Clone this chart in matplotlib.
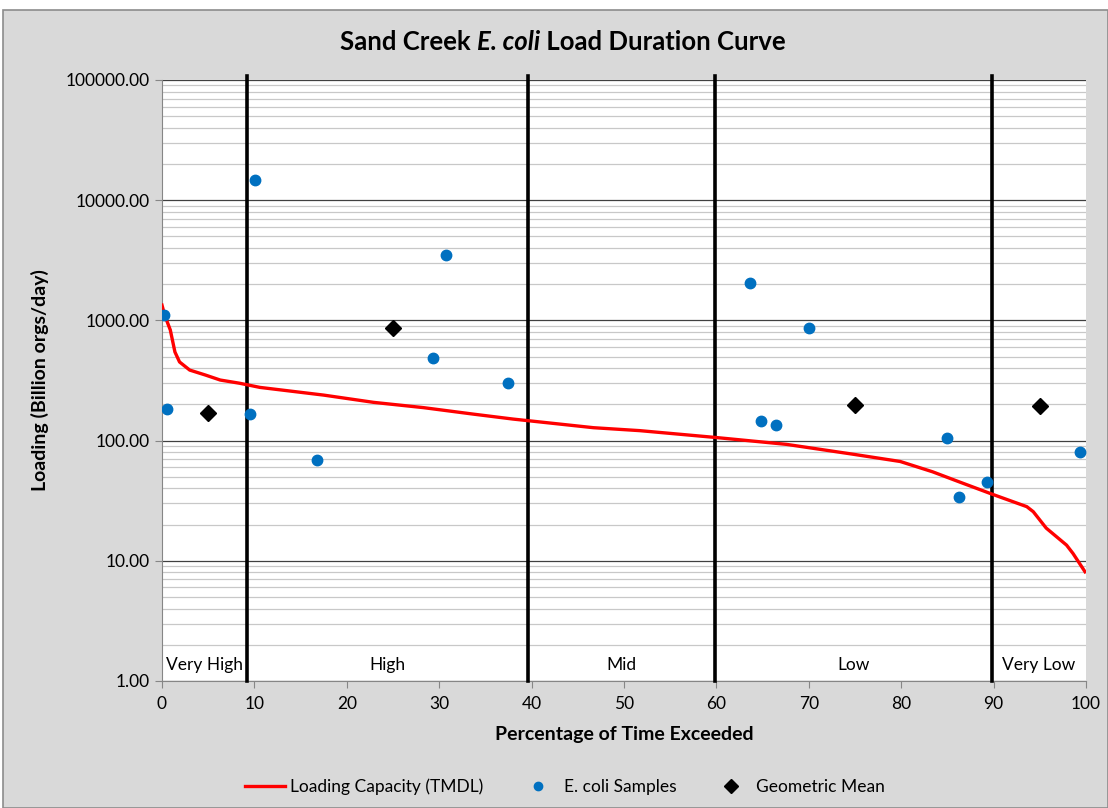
import matplotlib
matplotlib.use('Agg')
import matplotlib.pyplot as plt
from matplotlib.patches import Rectangle
from matplotlib.ticker import LogLocator, NullFormatter, FixedLocator, FuncFormatter
import numpy as np

plt.rcParams['font.family'] = ['Lato', 'DejaVu Sans']

# loading capacity curve (percent exceeded, billion orgs/day)
tmdl_pct = [0, 0.3, 0.9, 1.4, 1.9, 3.0, 4.7, 6.3, 8.4, 10.6, 17.5, 22.9, 28.3, 33.7,
            38.0, 46.7, 51.7, 60.0, 67.6, 74.8, 79.9, 83.4, 86.4, 89.9, 93.6, 94.3,
            95.7, 97.9, 98.6, 99.9]
tmdl_load = [1340, 1100, 832, 546, 451, 386, 351, 319, 300, 277, 239, 208, 188, 166,
             151, 128, 121, 106, 93, 77, 67, 55, 45, 35.7, 28.2, 25.6,
             18.7, 13.5, 11.5, 8.1]

# e. coli samples
sample_pct = [0.2, 0.5, 9.5, 10.1, 16.8, 29.3, 30.7, 37.4, 63.6, 64.8, 66.5, 70.0,
              85.0, 86.3, 89.3, 99.4]
sample_load = [1110, 183, 166, 14700, 69, 487, 3500, 301, 2050, 146, 135, 864,
               105, 34, 45, 80]

# geometric mean per flow zone
geo_pct = [5, 25, 75, 95]
geo_load = [170, 865, 198, 194]

zone_bounds = [9.2, 39.6, 59.9, 89.8]
zone_names = ['Very High', 'High', 'Mid', 'Low', 'Very Low']

fig = plt.figure(figsize=(11.08, 8.08), dpi=100)
fig.patch.set_facecolor('white')
fig.patches.append(Rectangle((0.003, 0.0), 0.997, 0.988, transform=fig.transFigure,
                             facecolor='#d9d9d9', edgecolor='#8c8c8c', linewidth=1.2,
                             zorder=-10))

ax = fig.add_axes([0.1462, 0.1572, 0.8339, 0.7438])
ax.set_facecolor('white')
ax.set_yscale('log')
ax.set_xlim(0, 100)
ax.set_ylim(1, 100000)

ax.yaxis.set_major_locator(LogLocator(base=10, numticks=10))
ax.yaxis.set_minor_locator(LogLocator(base=10, subs=np.arange(2, 10), numticks=10))
ax.yaxis.set_major_formatter(FuncFormatter(lambda v, p: f'{v:.2f}'))
ax.yaxis.set_minor_formatter(NullFormatter())
ax.xaxis.set_major_locator(FixedLocator(np.arange(0, 101, 10)))

ax.grid(True, which='major', axis='y', color='#404040', linewidth=0.9, zorder=0)
ax.grid(True, which='minor', axis='y', color='#c8c8c8', linewidth=0.9, zorder=0)
ax.set_axisbelow(True)

for side in ['top', 'right']:
    ax.spines[side].set_visible(False)
for side in ['left', 'bottom']:
    ax.spines[side].set_color('#868686')
ax.tick_params(axis='both', which='major', length=5, color='#868686', labelsize=12.5)
ax.tick_params(axis='y', which='minor', length=0)
ax.tick_params(axis='x', pad=6)

for b in zone_bounds:
    ax.axvline(b, ymin=0, ymax=1.006, color='black', linewidth=2.6, zorder=3, clip_on=False)

edges = [0] + zone_bounds + [100]
for i, name in enumerate(zone_names):
    ax.text((edges[i] + edges[i + 1]) / 2, 1.36, name, ha='center', va='center',
            fontsize=12.5, zorder=4)

ax.plot(tmdl_pct, tmdl_load, color='#ff0000', linewidth=2.4, zorder=4,
        label='Loading Capacity (TMDL)')
ax.plot(sample_pct, sample_load, linestyle='none', marker='o', markersize=7.5,
        color='#0070c0', zorder=5, label='E. coli Samples')
ax.plot(geo_pct, geo_load, linestyle='none', marker='D', markersize=8.5,
        color='black', zorder=5, label='Geometric Mean')

# title in three pieces so only "E. coli" is italic
title_parts = [('Sand Creek ', 'normal'), ('E. coli', 'italic'), (' Load Duration Curve', 'normal')]
renderer = fig.canvas.get_renderer()
pieces = []
for txt, style in title_parts:
    t = fig.text(0, 0.948, txt, ha='left', va='center', fontsize=18.5,
                 fontweight='bold', fontstyle=style)
    pieces.append(t)
widths = [t.get_window_extent(renderer).width for t in pieces]
fig_w = fig.get_figwidth() * fig.dpi
x0 = 0.508 * fig_w - sum(widths) / 2
for t, w in zip(pieces, widths):
    t.set_x(x0 / fig_w)
    x0 += w

ax.set_xlabel('Percentage of Time Exceeded', fontsize=14, fontweight='bold', labelpad=10)
ax.set_ylabel('Loading (Billion orgs/day)', fontsize=14, fontweight='bold', labelpad=12)

fig.legend(loc='center', bbox_to_anchor=(0.51, 0.026), ncol=3, frameon=False,
           fontsize=12.5, handlelength=2.3, handletextpad=0.3, columnspacing=2.0,
           markerscale=0.8)

fig.savefig('out.png', dpi=100, facecolor=fig.get_facecolor())
